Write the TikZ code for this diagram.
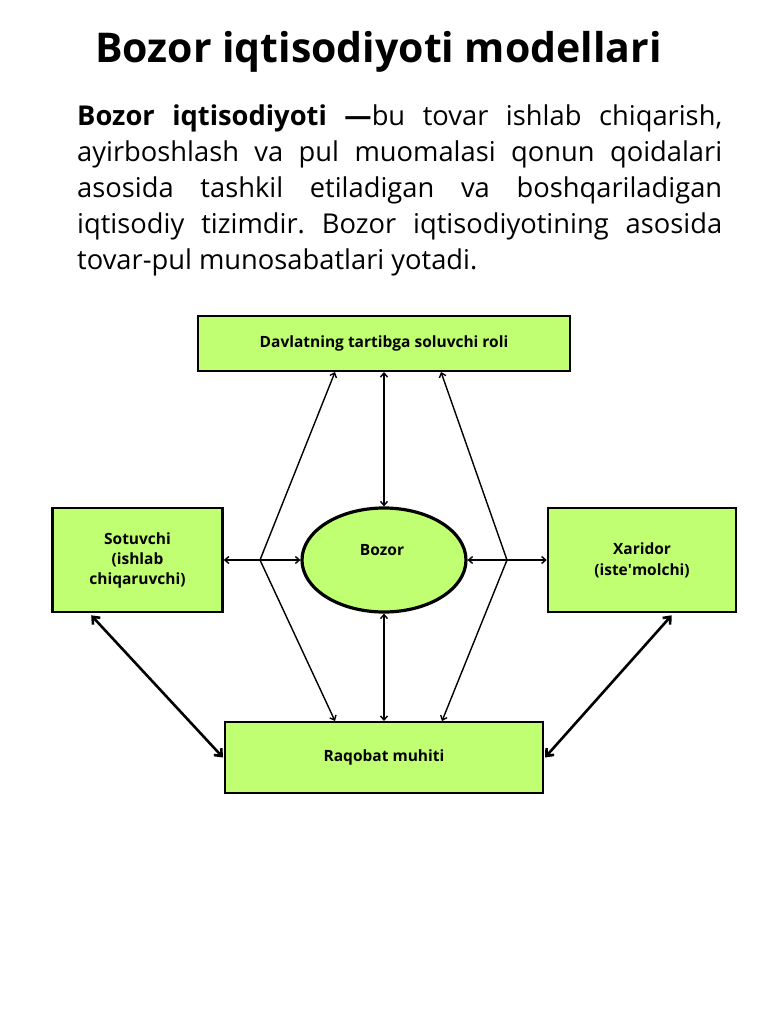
\documentclass[tikz,border=0pt]{standalone}
\usepackage{fontspec}
\setmainfont{Open Sans}
\usetikzlibrary{arrows.meta,shapes.geometric,calc}
\definecolor{boxgreen}{RGB}{192,255,114}
\tikzset{
  greenbox/.style={draw=black, fill=boxgreen, rectangle, inner sep=0pt, line width=2.6pt, align=center,
    font=\bfseries\fontsize{15.5}{20}\selectfont},
  thinarrow/.style={line width=1.4pt, {Straight Barb[length=4pt,width=7pt]}-{Straight Barb[length=4pt,width=7pt]}},
  thinhead/.style={line width=1.4pt, -{Straight Barb[length=4pt,width=7pt]}},
  thickarrow/.style={line width=2.6pt, {Straight Barb[length=6pt,width=10pt]}-{Straight Barb[length=6pt,width=10pt]}},
}
\begin{document}
\begin{tikzpicture}[x=1pt,y=-1pt]
\useasboundingbox (0,0) rectangle (768,1024);
\fill[white] (0,0) rectangle (768,1024);

\node[font=\bfseries\fontsize{41}{48}\selectfont, inner sep=0] (title) at (378.5,52) {Bozor iqtisodiyoti modellari};

\node[anchor=north west, text width=645pt, align=justify, inner sep=0,
      font=\frenchspacing\fontsize{27.3}{36}\selectfont] (para) at (77,105)
  {\textbf{Bozor iqtisodiyoti —}bu tovar ishlab chiqarish,\linebreak
   ayirboshlash va pul muomalasi qonun qoidalari\linebreak
   asosida tashkil etiladigan va boshqariladigan\linebreak
   iqtisodiy tizimdir. Bozor iqtisodiyotining asosida\linebreak
   tovar-pul munosabatlari yotadi.};

% boxes
\node[greenbox, line width=2pt, minimum width=372pt, minimum height=55pt] (top) at (384,343.5) {Davlatning tartibga soluvchi roli};
\node[greenbox, minimum width=170pt, minimum height=104pt] (sot) at (137.5,560) {Sotuvchi\\(ishlab\\chiqaruvchi)};
\node[greenbox, font=\bfseries\fontsize{15.5}{21}\selectfont, minimum width=188pt, minimum height=104pt] (xar) at (642,560) {Xaridor\\(iste\textquotesingle molchi)};
\node[greenbox, line width=2pt, minimum width=318pt, minimum height=71pt] (raq) at (384,757.5) {Raqobat muhiti};
\node[draw=black, fill=boxgreen, ellipse, line width=3.2pt, minimum width=164pt, minimum height=104pt, inner sep=0] (bozor) at (384,560) {};
\node[font=\bfseries\fontsize{15.5}{20}\selectfont, inner sep=0] (bozorlbl) at (382,550) {Bozor};

% junctions
\coordinate (jl) at (260,560);
\coordinate (jr) at (507,560);

% vertical arrows
\draw[thinarrow] (top.south) -- (bozor.north);
\draw[thinarrow] (bozor.south) -- (raq.north);

% left junction
\draw[thinhead] (jl) -- (sot.east |- jl);
\draw[thinhead] (jl) -- (bozor.west);
\draw[thinhead] (jl) -- ($(top.south)+(-49,0)$);
\draw[thinhead] (jl) -- ($(raq.north)+(-49,0)$);

% right junction
\draw[thinhead] (jr) -- (xar.west |- jr);
\draw[thinhead] (jr) -- (bozor.east);
\draw[thinhead] (jr) -- ($(top.south)+(57,0)$);
\draw[thinhead] (jr) -- ($(raq.north)+(58,0)$);

% thick diagonal arrows
\draw[thickarrow] ($(sot.south west)+(40,2)$) -- ($(raq.west)+(-1,0)$);
\draw[thickarrow] ($(xar.south west)+(125,2)$) -- ($(raq.east)+(1,0)$);
\end{tikzpicture}
\end{document}
